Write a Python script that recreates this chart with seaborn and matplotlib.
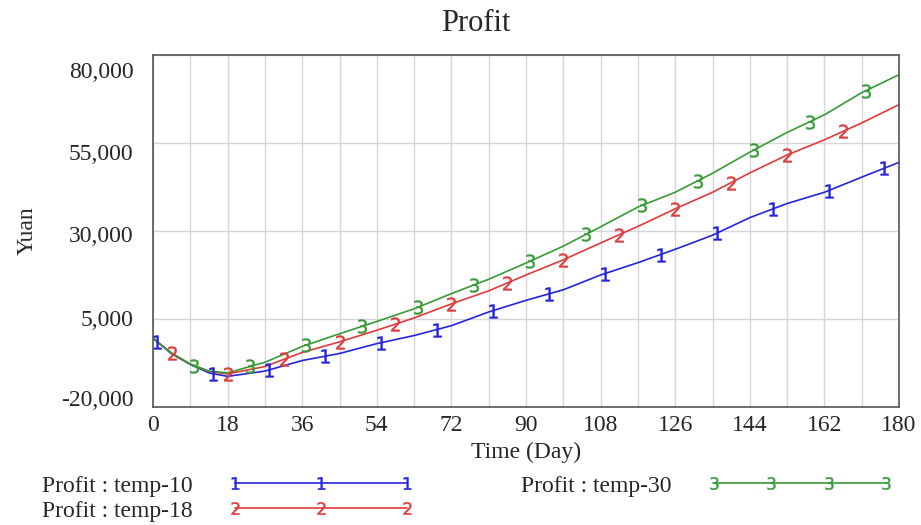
import numpy as np
import pandas as pd
import matplotlib
matplotlib.use('Agg')
import matplotlib.pyplot as plt
import seaborn as sns
from matplotlib.lines import Line2D
from matplotlib.legend_handler import HandlerLine2D
from matplotlib.ticker import MultipleLocator, StrMethodFormatter
from matplotlib.transforms import ScaledTranslation

# data (Yuan per day)
days = [0, 4.5, 9, 13.5, 18, 27, 36, 45, 54, 63, 72, 81, 90, 99, 108,
        117, 126, 135, 144, 153, 162, 171, 180]
temp10 = [-500, -4900, -7900, -10300, -11300, -9800, -6800, -4800, -2000, 300,
          3100, 7000, 10300, 13300, 17500, 21000, 24800, 28800, 33800, 37800,
          41000, 45300, 49500]
temp18 = [-500, -4700, -7800, -9900, -10600, -8500, -4500, -1500, 1800, 5300,
          9300, 13000, 17500, 21800, 26600, 31300, 36300, 41000, 46500, 51600,
          55900, 60700, 65900]
temp30 = [-500, -4700, -7800, -9800, -10300, -7300, -2800, 800, 4300, 7900,
          12200, 16300, 20900, 25700, 31200, 36800, 41000, 46400, 52400, 58000,
          63000, 69300, 74400]

series_names = ['Profit : temp-10', 'Profit : temp-18', 'Profit : temp-30']
marker_labels = ['1', '2', '3']
yticks = [-20000, 5000, 30000, 55000, 80000]

colors = ['#2424dc', '#e03a3a', '#379a37']
marker_start = [1, 4.5, 10]
marker_step = 13.5

sns.set_style('white')
plt.rcParams['font.family'] = ['Liberation Serif', 'DejaVu Serif']
plt.rcParams['mathtext.fontset'] = 'dejavusans'
plt.rcParams['axes.unicode_minus'] = False

all_vals = [temp10, temp18, temp30]
df = pd.DataFrame({
    'Day': days * 3,
    'Profit': temp10 + temp18 + temp30,
    'Series': [n for n in series_names for _ in days],
})

fig = plt.figure(figsize=(9.21, 5.25), dpi=100)
ax = fig.add_axes([153 / 921, 1 - 407 / 525, 746 / 921, 352 / 525])

sns.lineplot(data=df, x='Day', y='Profit', hue='Series', palette=colors,
             linewidth=1.2, legend=False, ax=ax)

# Vensim-style number markers along each line
for vals, lab, start, c in zip(all_vals, marker_labels, marker_start, colors):
    mx = np.arange(start, 180, marker_step)
    my = np.interp(mx, days, vals)
    ax.plot(mx, my, linestyle='none', marker=f'${lab}$', markersize=10,
            color=c, markeredgewidth=0.3)

ax.set_xlim(0, 180)
ax.set_ylim(-20000, 80000)
ax.xaxis.set_major_locator(MultipleLocator(18))
ax.xaxis.set_minor_locator(MultipleLocator(9))
ax.set_yticks(yticks)
ax.yaxis.set_major_formatter(StrMethodFormatter('{x:,.0f}'))
ax.grid(which='both', color='#d6d6d6', linewidth=1)
ax.tick_params(which='both', length=0)
ax.tick_params(axis='x', labelsize=17, pad=6)
ax.tick_params(axis='y', labelsize=17, pad=14)
for sp in ax.spines.values():
    sp.set_color('#555555')
    sp.set_linewidth(1.2)

# the y labels sit a little off their grid lines in the original
for tick, dy in zip(ax.yaxis.get_major_ticks(), [-9, -1, 2.5, 9, 14.5]):
    tick.label1.set_transform(tick.label1.get_transform()
                              + ScaledTranslation(0, -dy / 100, fig.dpi_scale_trans))

ax.set_xlabel('Time (Day)', fontsize=17, labelpad=4)
ax.set_ylabel('Yuan', fontsize=17, labelpad=17)
fig.text(0.517, 0.956, 'Profit', ha='center', va='center', fontsize=22)

handles = [Line2D([], [], color=c, lw=1.2, marker=f'${lab}$', markersize=9,
                  markeredgewidth=0.3)
           for c, lab in zip(colors, marker_labels)]
fig.legend(handles, series_names, loc='upper left',
           bbox_to_anchor=(42 / 921, 1 - 475 / 525), ncol=2,
           markerfirst=False, frameon=False, handlelength=7.9,
           columnspacing=4.5, handletextpad=1.5, labelspacing=0.15,
           fontsize=17, numpoints=3, borderaxespad=0, borderpad=0,
           handler_map={handles[2]: HandlerLine2D(numpoints=4)})

fig.savefig('out.png', dpi=100)
